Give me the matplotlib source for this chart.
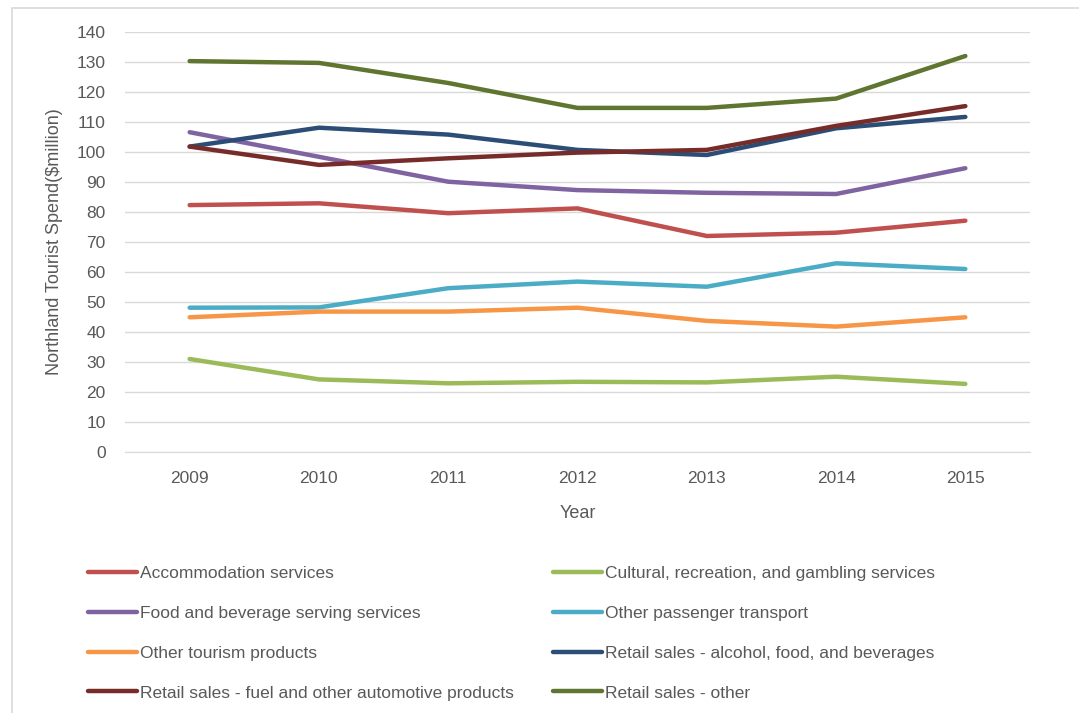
"""
Northland tourist spend by product category, 2009-2015.
"""

import matplotlib.pyplot as plt
from matplotlib.patches import Rectangle

# Data
YEARS = ["2009", "2010", "2011", "2012", "2013", "2014", "2015"]

ACCOMMODATION = [82.3, 82.9, 79.6, 81.2, 72.0, 73.1, 77.1]
CULTURAL = [31.0, 24.2, 22.9, 23.4, 23.2, 25.1, 22.7]
FOOD_BEVERAGE = [106.6, 98.4, 90.1, 87.3, 86.4, 86.0, 94.6]
PASSENGER_TRANSPORT = [48.1, 48.2, 54.6, 56.8, 55.1, 62.9, 61.0]
OTHER_TOURISM = [44.9, 46.8, 46.8, 48.1, 43.7, 41.8, 44.9]
RETAIL_ALCOHOL_FOOD = [101.8, 108.1, 105.8, 100.7, 99.0, 107.9, 111.7]
RETAIL_FUEL = [101.8, 95.7, 97.9, 99.8, 100.7, 108.7, 115.3]
RETAIL_OTHER = [130.3, 129.7, 123.0, 114.7, 114.7, 117.8, 132.0]

SERIES = [
    ("Accommodation services", ACCOMMODATION, "#C0504D"),
    ("Cultural, recreation, and gambling services", CULTURAL, "#9BBB59"),
    ("Food and beverage serving services", FOOD_BEVERAGE, "#8064A2"),
    ("Other passenger transport", PASSENGER_TRANSPORT, "#4BACC6"),
    ("Other tourism products", OTHER_TOURISM, "#F79646"),
    ("Retail sales - alcohol, food, and beverages", RETAIL_ALCOHOL_FOOD, "#2C4D75"),
    ("Retail sales - fuel and other automotive products", RETAIL_FUEL, "#772C2A"),
    ("Retail sales - other", RETAIL_OTHER, "#5F7530"),
]

TEXT_COLOR = "#595959"
GRID_COLOR = "#D9D9D9"

plt.rcParams['font.family'] = ['Liberation Sans', 'DejaVu Sans']

fig = plt.figure(figsize=(10.79, 7.13), dpi=100)

# Chart frame (runs off the bottom and right edges)
fig.patches.append(Rectangle((12 / 1079, -0.1), 1.2, 0.1 + (713 - 8) / 713,
                             transform=fig.transFigure, fill=False,
                             edgecolor=GRID_COLOR, linewidth=1.2))

ax = fig.add_axes([125 / 1079, 1 - 452 / 713, (1030 - 125) / 1079, (452 - 32) / 713])

x = list(range(len(YEARS)))
handles = []
for label, values, color in SERIES:
    line, = ax.plot(x, values, color=color, linewidth=3.2,
                    solid_capstyle='round', solid_joinstyle='round', label=label)
    handles.append(line)

ax.set_xlim(-0.5, len(YEARS) - 0.5)
ax.set_ylim(0, 140)
ax.set_yticks(range(0, 141, 10))
ax.set_xticks(x)
ax.set_xticklabels(YEARS)

ax.grid(axis='y', color=GRID_COLOR, linewidth=1.0)
ax.set_axisbelow(True)
for side in ["top", "right", "left"]:
    ax.spines[side].set_visible(False)
ax.spines["bottom"].set_color(GRID_COLOR)
ax.tick_params(axis='both', length=0, labelsize=12.5, colors=TEXT_COLOR)
ax.tick_params(axis='y', pad=14)
ax.tick_params(axis='x', pad=14)

ax.set_xlabel("Year", fontsize=13, color=TEXT_COLOR, labelpad=13)
ax.set_ylabel("Northland Tourist Spend($million)", fontsize=13,
              color=TEXT_COLOR, labelpad=10)

# Two-column legend laid out row by row
legend_kw = dict(loc='upper left', frameon=False, fontsize=12.5,
                 handlelength=2.8, handletextpad=0.2, labelspacing=1.42,
                 borderpad=0, borderaxespad=0, labelcolor=TEXT_COLOR)
leg1 = fig.legend(handles[0::2], [h.get_label() for h in handles[0::2]],
                  bbox_to_anchor=(88 / 1079, 1 - 566 / 713), **legend_kw)
leg2 = fig.legend(handles[1::2], [h.get_label() for h in handles[1::2]],
                  bbox_to_anchor=(553 / 1079, 1 - 566 / 713), **legend_kw)

fig.savefig("out.png", dpi=100)
